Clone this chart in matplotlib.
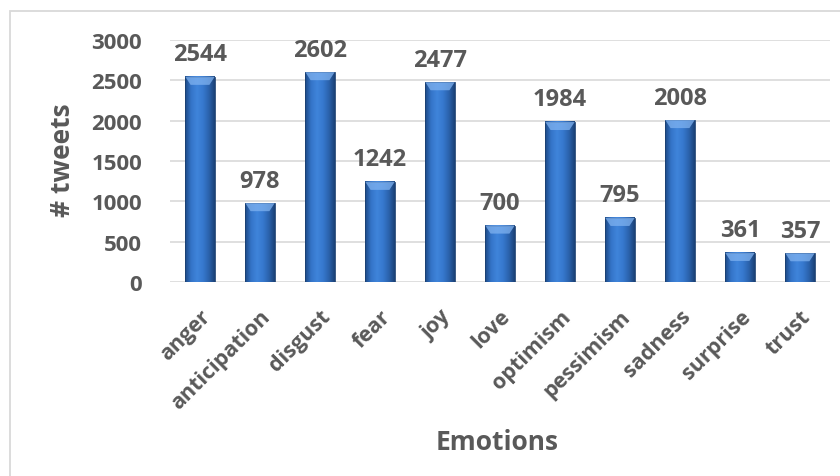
import numpy as np
import matplotlib.pyplot as plt
from matplotlib.colors import LinearSegmentedColormap
from matplotlib.patches import Polygon, Rectangle

emotions = ['anger', 'anticipation', 'disgust', 'fear', 'joy', 'love',
            'optimism', 'pessimism', 'sadness', 'surprise', 'trust']
tweets = [2544, 978, 2602, 1242, 2477, 700, 1984, 795, 2008, 361, 357]
y_ticks = [0, 500, 1000, 1500, 2000, 2500, 3000]

TEXT = '#595959'
plt.rcParams['font.family'] = ['Open Sans', 'DejaVu Sans']
plt.rcParams['font.weight'] = 'bold'

fig = plt.figure(figsize=(8.4, 4.77), dpi=100)
# outer chart frame (only left and top edges are visible)
fig.patches.append(Rectangle((10 / 840, -0.1), 1.2, 1 - 12 / 477 + 0.1,
                             transform=fig.transFigure, fill=False,
                             edgecolor='#d9d9d9', linewidth=1.3))

ax = fig.add_axes([170 / 840, 1 - 283 / 477, 660 / 840, 242 / 477])
x = np.arange(len(emotions))
bars = ax.bar(x, tweets, width=0.49, color='none', zorder=3)

# cylinder-like shading across each bar
shade = LinearSegmentedColormap.from_list(
    'shade', ['#1d4a86', '#3474c8', '#3f84da', '#3779cf', '#2b63ad', '#1b4277'])
grad = np.linspace(0, 1, 64).reshape(1, -1)
bev = 100  # height of the top bevel in data units
for b in bars:
    x0, w, h = b.get_x(), b.get_width(), b.get_height()
    ax.imshow(grad, cmap=shade, aspect='auto', extent=[x0, x0 + w, 0, h],
              zorder=3, interpolation='bilinear')
    ax.add_patch(Rectangle((x0, 0), w, h, fill=False, edgecolor='#1b3f70',
                           linewidth=0.6, zorder=4))
    ax.add_patch(Polygon([[x0, h], [x0 + w, h], [x0 + w * 0.82, h - bev],
                          [x0 + w * 0.18, h - bev]], closed=True,
                         facecolor='#7fb2f0', edgecolor='none', alpha=0.75,
                         zorder=4))
    ax.text(x0 + w / 2, h + 130, f'{h:.0f}', ha='center', va='bottom',
            fontsize=17, fontweight='bold', color=TEXT, zorder=5)

ax.set_xlim(-0.5, len(emotions) - 0.5)
ax.set_ylim(0, 3000)
ax.set_yticks(y_ticks)
ax.set_xticks(x)
ax.set_xticklabels(emotions, rotation=45, ha='right', rotation_mode='anchor')
ax.tick_params(axis='y', length=0, pad=20, labelsize=16, labelcolor=TEXT)
ax.tick_params(axis='x', length=0, pad=17, labelsize=15.5, labelcolor=TEXT)
ax.grid(axis='y', color='#d9d9d9', linewidth=1.2, zorder=0)
for s in ax.spines.values():
    s.set_visible(False)
ax.set_axisbelow(True)

fig.text(62 / 840, 1 - 160 / 477, '# tweets', rotation=90, ha='center',
         va='center', fontsize=19, fontweight='bold', color=TEXT)
fig.text(497 / 840, 1 - 442 / 477, 'Emotions', ha='center', va='center',
         fontsize=19, fontweight='bold', color=TEXT)

fig.savefig('out.png', dpi=100)
